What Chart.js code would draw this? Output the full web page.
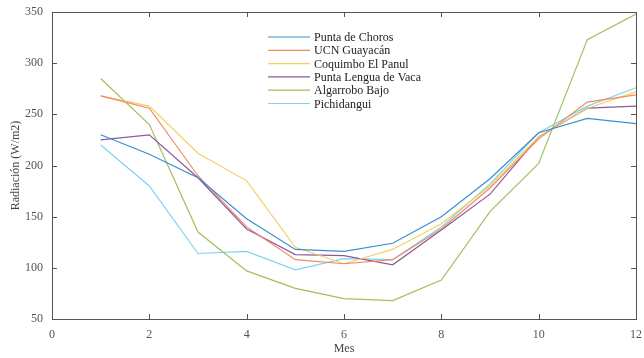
<!DOCTYPE html>
<html lang="es">
<head>
  <meta charset="UTF-8">
  <title>Radiación mensual</title>
  <script src="https://cdn.jsdelivr.net/npm/chart.js"></script>
  <style>
    html, body { margin: 0; padding: 0; background: #fff; }
    #wrap { width: 644px; height: 358px; }
  </style>
</head>
<body>
<div id="wrap"><canvas id="rad"></canvas></div>
<script>
  // meses y series
  const meses = [1, 2, 3, 4, 5, 6, 7, 8, 9, 10, 11, 12];
  const puntaChoros   = [230, 211, 188, 148, 118, 116, 124, 150, 187, 232, 246, 241];
  const ucnGuayacan   = [268, 256, 190, 140, 108, 104, 108, 138, 178, 226, 262, 269];
  const coquimbo      = [268, 258, 212, 185, 120, 104, 118, 143, 180, 228, 256, 272];
  const lenguaVaca    = [225, 230, 188, 138, 113, 112, 103, 137, 172, 228, 256, 258];
  const algarrobo     = [285, 240, 135, 97, 80, 70, 68, 88, 155, 202, 323, 348];
  const pichidangui   = [220, 180, 114, 116, 98, 109, 108, 140, 182, 232, 258, 276];

  const nombres = ['Punta de Choros', 'UCN Guayacán', 'Coquimbo El Panul', 'Punta Lengua de Vaca', 'Algarrobo Bajo', 'Pichidangui'];
  const series = [puntaChoros, ucnGuayacan, coquimbo, lenguaVaca, algarrobo, pichidangui];
  const colores = ['#3c8fcf', '#ef8a62', '#f4d060', '#8a5a9c', '#a0c060', '#7fd3f0'];

  const serif = "'Liberation Serif', 'Times New Roman', serif";
  const ejeColor = '#555';

  // caja estilo MATLAB con marcas hacia adentro + leyenda interna
  const cajaPlugin = {
    id: 'caja',
    afterDraw(chart) {
      const { ctx, chartArea: a, scales } = chart;
      ctx.save();
      ctx.strokeStyle = ejeColor;
      ctx.lineWidth = 1;
      ctx.strokeRect(Math.round(a.left) + 0.5, Math.round(a.top) + 0.5, Math.round(a.right - a.left), Math.round(a.bottom - a.top));
      const t = 5;
      ctx.beginPath();
      scales.x.ticks.forEach(tk => {
        const px = Math.round(scales.x.getPixelForValue(tk.value)) + 0.5;
        ctx.moveTo(px, a.bottom); ctx.lineTo(px, a.bottom - t);
        ctx.moveTo(px, a.top); ctx.lineTo(px, a.top + t);
      });
      scales.y.ticks.forEach(tk => {
        const py = Math.round(scales.y.getPixelForValue(tk.value)) + 0.5;
        ctx.moveTo(a.left, py); ctx.lineTo(a.left + t, py);
        ctx.moveTo(a.right, py); ctx.lineTo(a.right - t, py);
      });
      ctx.stroke();

      // leyenda
      const lx = 268, ly = 37, paso = 13.3;
      ctx.font = '12px ' + serif;
      ctx.textBaseline = 'middle';
      ctx.fillStyle = '#222';
      chart.data.datasets.forEach((ds, i) => {
        const y = ly + i * paso;
        ctx.strokeStyle = ds.borderColor;
        ctx.lineWidth = 1.2;
        ctx.beginPath();
        ctx.moveTo(lx, y); ctx.lineTo(lx + 42, y);
        ctx.stroke();
        ctx.fillText(ds.label, lx + 46, y + 1);
      });
      ctx.restore();
    }
  };

  const datasets = series.map((s, i) => ({
    label: nombres[i],
    data: meses.map((m, j) => ({ x: m, y: s[j] })),
    borderColor: colores[i],
    backgroundColor: colores[i],
    borderWidth: 1.2,
    pointRadius: 0,
    tension: 0,
    fill: false
  }));

  new Chart(document.getElementById('rad'), {
    type: 'line',
    data: { datasets },
    options: {
      responsive: true,
      maintainAspectRatio: false,
      animation: false,
      layout: { padding: { top: 12, right: 8, bottom: 0, left: 0 } },
      plugins: {
        legend: { display: false },
        tooltip: { enabled: false }
      },
      scales: {
        x: {
          type: 'linear',
          min: 0, max: 12,
          ticks: { stepSize: 2, color: '#555', font: { family: serif, size: 12 }, padding: 9, maxRotation: 0 },
          grid: { display: false, drawTicks: false },
          border: { display: false },
          title: { display: true, text: 'Mes', color: '#444', font: { family: serif, size: 12 }, padding: { top: 0, bottom: 2 } },
          afterFit(scale) { scale.height = 39; scale.paddingLeft = 0; scale.paddingRight = 0; }
        },
        y: {
          min: 50, max: 350,
          ticks: { stepSize: 50, color: '#555', font: { family: serif, size: 12 }, padding: 9 },
          grid: { display: false, drawTicks: false },
          border: { display: false },
          title: { display: true, text: 'Radiación (W/m2)', color: '#444', font: { family: serif, size: 12 }, padding: { top: 9, bottom: 0 } },
          afterFit(scale) { scale.width = 52; scale.paddingTop = 0; scale.paddingBottom = 0; }
        }
      }
    },
    plugins: [cajaPlugin]
  });
</script>
</body>
</html>
